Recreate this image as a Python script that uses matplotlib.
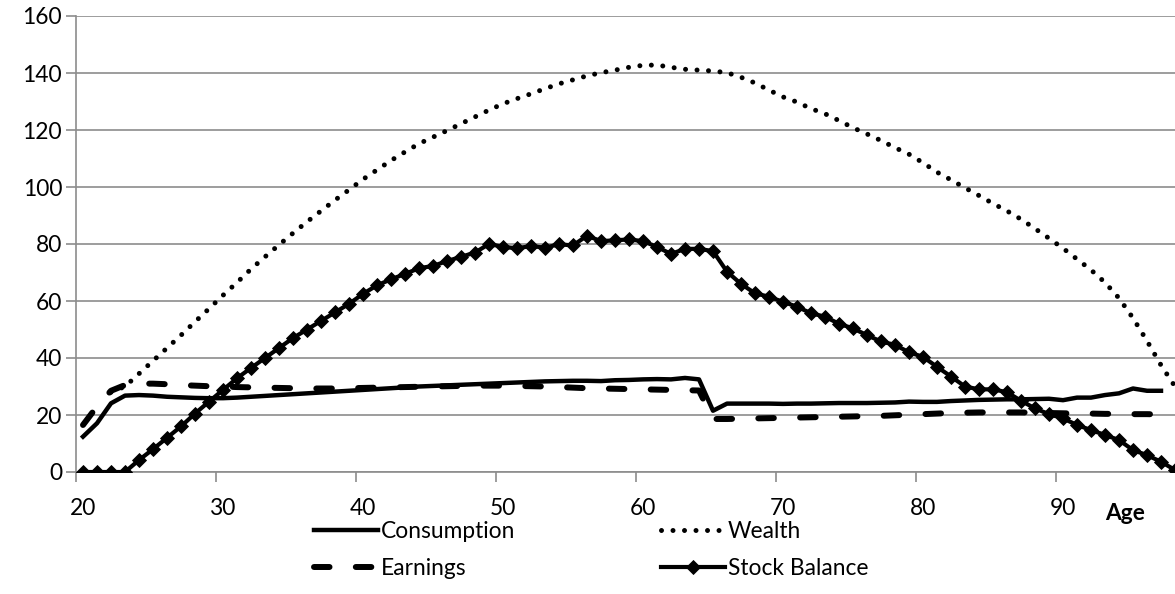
import matplotlib
matplotlib.use('Agg')
import matplotlib.pyplot as plt
import numpy as np

plt.rcParams['font.family'] = ['Lato', 'DejaVu Sans']
FS = 16.4
plt.rcParams['font.size'] = FS

# ---------------- data ----------------
ages = list(range(20, 99))          # categories 20..98
x_labels = [20, 30, 40, 50, 60, 70, 80, 90]
y_ticks = [0, 20, 40, 60, 80, 100, 120, 140, 160]

consumption_ages = list(range(20, 98))
consumption = [12.4, 17.1, 24.1, 26.8, 27.0, 26.8, 26.4, 26.2, 26.0, 25.9,
               25.9, 26.1, 26.4, 26.7, 27.0, 27.3, 27.6, 27.9, 28.2, 28.5,
               28.8, 29.1, 29.4, 29.7, 30.0, 30.2, 30.4, 30.6, 30.8, 31.0,
               31.2, 31.4, 31.6, 31.8, 31.9, 32.0, 32.0, 31.9, 32.2, 32.3,
               32.5, 32.6, 32.5, 33.0, 32.5, 21.5, 24.0, 24.0, 24.0, 24.0,
               23.9, 24.0, 24.0, 24.1, 24.2, 24.2, 24.2, 24.3, 24.4, 24.7,
               24.6, 24.6, 24.9, 25.1, 25.3, 25.4, 25.5, 25.5, 25.6, 25.7,
               25.2, 26.1, 26.1, 27.0, 27.6, 29.3, 28.5, 28.5]

earnings_ages = list(range(20, 98))
earnings = [16.5, 23.0, 28.5, 30.5, 31.0, 31.0, 30.8, 30.5, 30.3, 30.1,
            30.0, 29.8, 29.7, 29.6, 29.5, 29.4, 29.3, 29.3, 29.3, 29.4,
            29.5, 29.6, 29.7, 29.8, 29.9, 30.0, 30.1, 30.2, 30.3, 30.3,
            30.3, 30.2, 30.1, 30.0, 29.8, 29.6, 29.4, 29.3, 29.2, 29.1,
            29.0, 28.9, 28.8, 28.7, 28.6, 18.6, 18.6, 18.7, 18.8, 18.9,
            19.0, 19.1, 19.2, 19.3, 19.4, 19.5, 19.6, 19.7, 19.9, 20.1,
            20.3, 20.5, 20.7, 20.8, 20.9, 20.9, 20.9, 20.9, 20.8, 20.7,
            20.6, 20.5, 20.5, 20.4, 20.4, 20.3, 20.3, 20.2]

wealth_ages = list(range(22, 99))
wealth = [28.0, 30.0, 34.5, 39.0, 43.5, 48.0, 52.7, 57.3, 62.0, 66.5,
          71.2, 75.5, 79.7, 83.8, 87.8, 91.6, 95.4, 99.0, 102.7, 106.0,
          109.3, 112.3, 115.2, 117.5, 119.8, 122.2, 124.6, 127.0, 129.2, 131.0,
          132.7, 134.5, 136.2, 137.6, 139.0, 140.1, 141.0, 142.0, 142.7, 142.8,
          142.0, 141.3, 141.0, 140.7, 140.1, 138.5, 136.5, 134.0, 131.6, 129.8,
          127.5, 125.7, 123.3, 120.8, 118.6, 116.3, 113.8, 111.5, 108.5, 105.2,
          102.5, 99.7, 97.0, 94.2, 91.6, 88.7, 85.4, 82.0, 78.5, 74.7,
          70.9, 66.5, 61.0, 54.0, 46.0, 37.5, 30.0]

stock_ages = list(range(20, 99))
stock = [0.0, 0.0, 0.0, 0.0, 4.2, 8.0, 12.0, 16.0, 20.5, 24.7,
         28.8, 32.9, 36.5, 40.0, 43.5, 47.0, 50.0, 53.0, 56.0, 59.0,
         62.5, 65.5, 67.6, 69.5, 71.5, 72.3, 74.0, 75.5, 77.0, 80.0,
         79.0, 78.5, 79.3, 78.7, 79.9, 79.5, 82.9, 81.0, 81.3, 81.6,
         81.0, 79.0, 76.5, 78.3, 78.3, 77.5, 70.3, 66.0, 62.7, 61.5,
         59.7, 58.0, 55.7, 54.5, 52.0, 50.4, 48.0, 45.8, 44.6, 42.0,
         40.4, 36.9, 33.5, 30.0, 29.0, 29.0, 28.0, 25.0, 22.3, 20.3,
         18.8, 16.5, 14.7, 13.0, 11.2, 7.7, 5.9, 3.6, 0.7]

# ---------------- figure ----------------
W, H = 1175, 594
fig = plt.figure(figsize=(W / 100, H / 100), dpi=100)
ax = fig.add_axes([76 / W, (H - 472) / H, 1106 / W, 456 / H])

grid_c = '#8c8c8c'

l_cons, = ax.plot(consumption_ages, consumption, color='black', lw=3.2,
                  solid_joinstyle='round', label='Consumption', zorder=3)
l_wlth, = ax.plot(wealth_ages, wealth, color='black', lw=3.6,
                  linestyle=(0, (0.001, 2.3)), dash_capstyle='round',
                  label='Wealth', zorder=3)
l_earn, = ax.plot(earnings_ages, earnings, color='black', lw=4.3,
                  linestyle=(0, (2.6, 4.4)), dash_capstyle='round',
                  label='Earnings', zorder=3)
l_stock, = ax.plot(stock_ages, stock, color='black', lw=3.0, marker='D',
                   markersize=7.4, markeredgewidth=0.6,
                   label='Stock Balance', zorder=4)

ax.set_xlim(19.5, 98.5)
ax.set_ylim(0, 160)
ax.set_yticks(y_ticks)
ax.yaxis.grid(True, color=grid_c, lw=1.2)
ax.set_axisbelow(True)

# category axis: tick marks between categories, labels on categories
ax.set_xticks([a - 0.5 for a in x_labels])
ax.set_xticklabels([])
ax.set_xticks(x_labels, minor=True)
ax.set_xticklabels([str(v) for v in x_labels], minor=True)
ax.tick_params(axis='x', which='major', length=7, width=1.2, color=grid_c,
               direction='out')
ax.tick_params(axis='x', which='minor', length=0, pad=19, labelsize=FS)
ax.tick_params(axis='y', length=7, width=1.2, color=grid_c, direction='out',
               pad=3, labelsize=FS)

for s in ['top', 'right']:
    ax.spines[s].set_visible(False)
for s in ['left', 'bottom']:
    ax.spines[s].set_color(grid_c)
    ax.spines[s].set_linewidth(1.2)

fig.text(1125 / W, 1 - 513 / H, 'Age', ha='center', va='center',
         fontsize=FS, fontweight='bold')

leg = fig.legend(handles=[l_cons, l_earn, l_wlth, l_stock], ncol=2,
                 loc='center', bbox_to_anchor=(591 / W, 1 - 550 / H),
                 frameon=False, fontsize=FS, handlelength=2.8,
                 handletextpad=0.13, columnspacing=6.4, labelspacing=0.72,
                 borderpad=0, borderaxespad=0, numpoints=1)

fig.savefig('out.png', dpi=100)
